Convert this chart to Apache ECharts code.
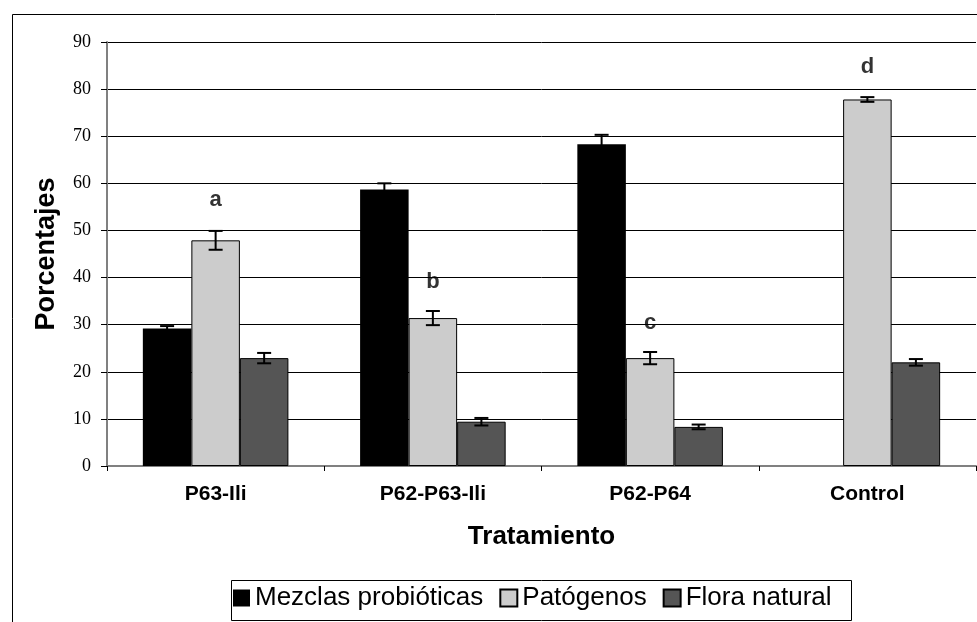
<!DOCTYPE html>
<html>
<head>
<meta charset="utf-8">
<script src="https://cdn.jsdelivr.net/npm/echarts@6/dist/echarts.min.js"></script>
<style>
html,body{margin:0;padding:0;background:#fff;}
#chart{width:977px;height:622px;}
</style>
</head>
<body>
<div id="chart"></div>
<script>
const categories = ['P63-Ili', 'P62-P63-Ili', 'P62-P64', 'Control'];
const seriesNames = ['Mezclas probióticas', 'Patógenos', 'Flora natural'];
const mezclas = [29.2, 58.7, 68.3, 0];
const mezclasErr = [0.5, 1.3, 2.0, 0];
const patogenos = [47.9, 31.4, 22.9, 77.8];
const patogenosErr = [2.0, 1.5, 1.3, 0.5];
const flora = [22.9, 9.4, 8.3, 22.0];
const floraErr = [1.1, 0.8, 0.5, 0.7];
const letters = ['a', 'b', 'c', 'd'];
const letterValues = [56.5, 39.0, 30.4, 84.7];
const yTicks = [0, 10, 20, 30, 40, 50, 60, 70, 80, 90];

const values = [mezclas, patogenos, flora];
const errors = [mezclasErr, patogenosErr, floraErr];
const colors = ['#000000', '#cccccc', '#555555'];
const gapRatio = 0.33;

const errData = [];
values.forEach((vals, s) => {
  vals.forEach((v, i) => {
    if (errors[s][i] > 0) errData.push([i, v - errors[s][i], v + errors[s][i], s]);
  });
});

const chart = echarts.init(document.getElementById('chart'));
chart.setOption({
  animation: false,
  backgroundColor: '#ffffff',
  textStyle: { fontFamily: 'Liberation Sans' },
  graphic: [
    {
      type: 'rect', left: 10, top: 12, z: -1,
      shape: { width: 1000, height: 700 },
      style: { fill: 'none', stroke: '#000', lineWidth: 1 }
    },
    {
      type: 'rect', left: 229, top: 578, z: 0,
      shape: { width: 620, height: 40 },
      style: { fill: 'none', stroke: '#000', lineWidth: 1 }
    }
  ],
  grid: { left: 107, top: 42, right: 1, bottom: 156, containLabel: false },
  legend: {
    data: seriesNames,
    left: 233, top: 585,
    padding: 0,
    itemWidth: 17, itemHeight: 17, itemGap: 16,
    icon: 'rect',
    textStyle: { fontSize: 26, color: '#000', fontFamily: 'Liberation Sans' }
  },
  xAxis: {
    type: 'category',
    data: categories,
    name: 'Tratamiento',
    nameLocation: 'middle',
    nameGap: 58,
    nameTextStyle: { fontSize: 26, fontWeight: 'bold', color: '#000', fontFamily: 'Liberation Sans' },
    axisLine: { lineStyle: { color: '#808080', width: 2 } },
    axisTick: { show: true, length: 5, lineStyle: { color: '#000' } },
    axisLabel: { fontSize: 21, fontWeight: 'bold', color: '#000', margin: 18, fontFamily: 'Liberation Sans' },
    splitLine: { show: false }
  },
  yAxis: {
    type: 'value',
    min: 0, max: 90, interval: 10,
    name: 'Porcentajes',
    nameLocation: 'middle',
    nameGap: 47,
    nameTextStyle: { fontSize: 27, fontWeight: 'bold', color: '#000', fontFamily: 'Liberation Sans' },
    axisLine: { show: true, lineStyle: { color: '#808080', width: 2 } },
    axisTick: { show: true, length: 6, lineStyle: { color: '#000' } },
    axisLabel: {
      fontSize: 18, color: '#000', margin: 16, fontFamily: 'Liberation Serif',
      formatter: v => yTicks.includes(v) ? String(v) : ''
    },
    splitLine: { show: true, lineStyle: { color: '#000', width: 1 } }
  },
  series: [
    ...seriesNames.map((name, s) => ({
      name: name,
      type: 'bar',
      data: values[s],
      barGap: '0%',
      barCategoryGap: (gapRatio * 100) + '%',
      itemStyle: { color: colors[s], borderColor: '#000', borderWidth: s === 0 ? 0 : 1 },
      z: 2
    })),
    {
      type: 'custom',
      name: 'err',
      data: errData,
      z: 5,
      renderItem: function (params, api) {
        const cat = api.value(0);
        const lo = api.value(1);
        const hi = api.value(2);
        const s = api.value(3);
        const band = api.size([1, 0])[0];
        const bw = band * (1 - gapRatio) / 3;
        const off = (s - 1) * bw;
        const pLo = api.coord([cat, lo]);
        const pHi = api.coord([cat, hi]);
        const x = pLo[0] + off;
        const cap = 7;
        const st = { stroke: '#000', lineWidth: 2 };
        return {
          type: 'group',
          children: [
            { type: 'line', shape: { x1: x, y1: pLo[1], x2: x, y2: pHi[1] }, style: st },
            { type: 'line', shape: { x1: x - cap, y1: pLo[1], x2: x + cap, y2: pLo[1] }, style: st },
            { type: 'line', shape: { x1: x - cap, y1: pHi[1], x2: x + cap, y2: pHi[1] }, style: st }
          ]
        };
      }
    },
    {
      type: 'scatter',
      name: 'letters',
      data: letterValues.map((v, i) => [i, v]),
      symbolSize: 0,
      z: 6,
      label: {
        show: true,
        position: 'inside',
        formatter: p => letters[p.dataIndex],
        fontSize: 22, fontWeight: 'bold', color: '#000', fontFamily: 'Liberation Sans'
      }
    }
  ]
});
</script>
</body>
</html>
